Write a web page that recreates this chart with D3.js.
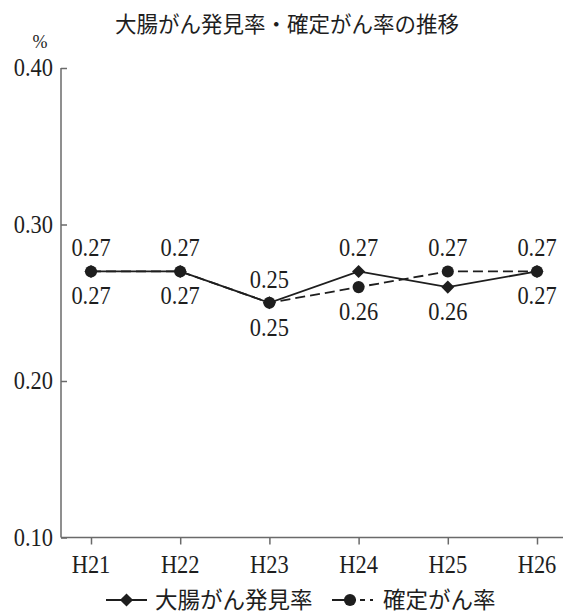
<!DOCTYPE html>
<html><head><meta charset="utf-8">
<script src="https://cdn.jsdelivr.net/npm/d3@7"></script>
<style>body{margin:0;background:#fff}svg{display:block}
.sf{font-family:"Liberation Serif","Times New Roman",Times,serif}
.cj{font-family:"Noto Sans CJK JP",sans-serif}
</style>
</head><body>
<svg id="c" width="563" height="614"></svg>
<script>
const title = "大腸がん発見率・確定がん率の推移";
const categories = ["H21","H22","H23","H24","H25","H26"];
const seriesNames = ["大腸がん発見率","確定がん率"];
const detectRate = [0.27,0.27,0.25,0.27,0.26,0.27];
const confirmRate = [0.27,0.27,0.25,0.26,0.27,0.27];
const yTicks = [0.10,0.20,0.30,0.40];
const yUnit = "%";

const svg = d3.select("#c");
const ink = "#1e1e1e";
const axisCol = "#6a6a6a";
const NUM_SIZE = 25.5, SX = 0.88;

const x = d3.scalePoint().domain(categories).range([91, 537]);
const y = d3.scaleLinear().domain([0.10, 0.40]).range([537.5, 68]);
const xLeft = 61, xRight = 563;

function serifText(sel, cls, data, fx, fy, fmt, anchor) {
  return sel.selectAll("text." + cls).data(data).join("text").attr("class", cls + " sf")
    .attr("transform", d => `translate(${fx(d)},${fy(d)}) scale(${SX},1)`)
    .attr("text-anchor", anchor).attr("font-size", NUM_SIZE).attr("fill", ink).text(fmt);
}

// title
svg.append("text").attr("class","cj").attr("x", 287).attr("y", 32).attr("text-anchor","middle")
  .attr("font-size", 21.5).attr("fill", ink).text(title);

// y axis
const ya = svg.append("g").attr("transform", `translate(${xLeft},0)`)
  .call(d3.axisRight(y).tickValues(yTicks).tickSize(6).tickFormat(""));
ya.select(".domain").remove();
ya.selectAll("line").attr("stroke", axisCol).attr("stroke-width", 1.5);
svg.append("line").attr("x1", xLeft).attr("x2", xLeft).attr("y1", y(0.40)).attr("y2", y(0.10))
  .attr("stroke", axisCol).attr("stroke-width", 1.5);
serifText(svg, "ytl", yTicks, d => 53, d => y(d) + 8, d => d3.format(".2f")(d), "end");
svg.append("text").attr("class","sf").attr("x", 40).attr("y", 48).attr("text-anchor","middle")
  .attr("font-size", 18).attr("fill", ink).text(yUnit);

// x axis
const xa = svg.append("g").attr("transform", `translate(0,${y(0.10)})`)
  .call(d3.axisBottom(x).tickSize(7).tickFormat(""));
xa.select(".domain").remove();
xa.selectAll("line").attr("stroke", axisCol).attr("stroke-width", 1.5);
svg.append("line").attr("x1", xLeft).attr("x2", xRight).attr("y1", y(0.10)).attr("y2", y(0.10))
  .attr("stroke", axisCol).attr("stroke-width", 1.5);
serifText(svg, "xtl", categories, d => x(d), d => 573, d => d, "middle");

// lines
const line = d3.line().x((d,i) => x(categories[i])).y(d => y(d));
svg.append("path").datum(confirmRate).attr("d", line).attr("fill","none")
  .attr("stroke", ink).attr("stroke-width", 1.8).attr("stroke-dasharray","10,5");
svg.append("path").datum(detectRate).attr("d", line).attr("fill","none")
  .attr("stroke", ink).attr("stroke-width", 1.8);

const diamond = d3.symbol().type(d3.symbolDiamond2).size(110);
const circle = d3.symbol().type(d3.symbolCircle).size(115);
svg.selectAll("path.m2").data(confirmRate).join("path").attr("class","m2")
  .attr("d", circle).attr("fill", ink)
  .attr("transform", (d,i) => `translate(${x(categories[i])},${y(d)})`);
svg.selectAll("path.m1").data(detectRate).join("path").attr("class","m1")
  .attr("d", diamond).attr("fill", ink)
  .attr("transform", (d,i) => `translate(${x(categories[i])},${y(d)})`);

// data labels: higher value above, lower below (ties: first series above)
const labels = [];
categories.forEach((c,i) => {
  const a = detectRate[i], b = confirmRate[i];
  const above = a >= b ? a : b, below = a >= b ? b : a;
  labels.push({c, v: above, pos: "above", ref: y(above)});
  labels.push({c, v: below, pos: "below", ref: y(below)});
});
serifText(svg, "dl", labels, d => x(d.c), d => d.pos === "above" ? d.ref - 15 : d.ref + 33,
  d => d3.format(".2f")(d.v), "middle");

// legend
const ly = 600;
const lg = svg.append("g");
lg.append("line").attr("x1",106).attr("x2",147).attr("y1",ly).attr("y2",ly)
  .attr("stroke", ink).attr("stroke-width", 1.8);
lg.append("path").attr("d", diamond).attr("fill", ink).attr("transform", `translate(126.5,${ly})`);
lg.append("text").attr("class","cj").attr("x",155).attr("y",ly+8).attr("font-size",22.5)
  .attr("fill",ink).text(seriesNames[0]);
lg.append("line").attr("x1",332).attr("x2",374).attr("y1",ly).attr("y2",ly)
  .attr("stroke", ink).attr("stroke-width", 1.8).attr("stroke-dasharray","24,4,5,5,3,20");
lg.append("path").attr("d", circle).attr("fill", ink).attr("transform", `translate(350,${ly})`);
lg.append("text").attr("class","cj").attr("x",383).attr("y",ly+8).attr("font-size",22.5)
  .attr("fill",ink).text(seriesNames[1]);
</script>
</body></html>
